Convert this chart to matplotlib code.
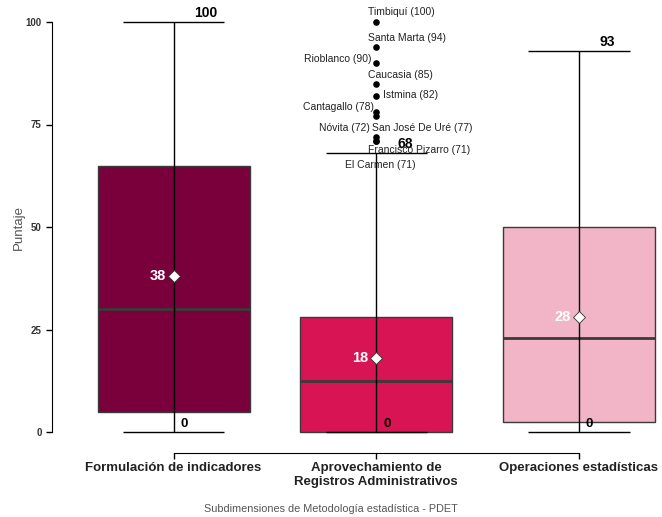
import matplotlib
matplotlib.use("Agg")
import matplotlib.pyplot as plt

plt.rcParams['font.family'] = ['Liberation Sans', 'DejaVu Sans']

# ---- data ----
categories = ["Formulación de indicadores",
              "Aprovechamiento de\nRegistros Administrativos",
              "Operaciones estadísticas"]
q1 = [5, 0, 2.5]
median = [30, 12.5, 23]
q3 = [65, 28, 50]
means = [38, 18, 28]
wmin = [0, 0, 0]
wmax = [100, 68, 93]
box_colors = ["#7a003c", "#d81454", "#f2b5c7"]

outlier_names = ["Timbiquí", "Santa Marta", "Rioblanco", "Caucasia", "Istmina",
                 "Cantagallo", "San José De Uré", "Nóvita", "Francisco Pizarro", "El Carmen"]
outlier_values = [100, 94, 90, 85, 82, 78, 77, 72, 71, 71]
outlier_group = 2

# label offsets (pixels) for outlier labels
label_offsets = [(25, 10), (31, 9), (-39, 4), (24, 9), (34, 1),
                 (-38, 5), (46, -12), (-32, 9), (43, -9), (4, -24)]

fig = plt.figure(figsize=(6.62, 5.17), dpi=100)
ax = fig.add_axes([52/662, 64.5/517, 610/662, 451/517])

xs = [1, 2, 3]
bw = 0.75
cw = 0.5
for x, a, m, b, mu, lo, hi, c in zip(xs, q1, median, q3, means, wmin, wmax, box_colors):
    ax.bar(x, b - a, bottom=a, width=bw, color=c, edgecolor="#3a3a3a", linewidth=1.0, zorder=2)
    ax.hlines(m, x - bw/2, x + bw/2, color="#3a3a3a", linewidth=2.0, zorder=3)
    ax.vlines(x, lo, hi, color="black", linewidth=1.0, zorder=4)
    ax.hlines([lo, hi], x - cw/2, x + cw/2, color="black", linewidth=1.0, zorder=4)
    ax.plot(x, mu, marker="D", markersize=6, markerfacecolor="white",
            markeredgecolor="#333333", markeredgewidth=0.6, zorder=5)
    ax.annotate(f"{mu:g}", (x, mu), xytext=(-8, 0), textcoords="offset pixels",
                ha="right", va="center", color="white", fontsize=10.5, fontweight="bold", zorder=6)
    ax.annotate(f"{hi:g}", (x, hi), xytext=(21, 2), textcoords="offset pixels",
                ha="left", va="bottom", color="black", fontsize=10, fontweight="bold", zorder=6)
    ax.annotate(f"{lo:g}", (x, lo), xytext=(7, 2), textcoords="offset pixels",
                ha="left", va="bottom", color="black", fontsize=9.5, fontweight="bold", zorder=6)

ox = [outlier_group] * len(outlier_values)
ax.scatter(ox, outlier_values, s=14, color="black", zorder=5)
for name, v, off in zip(outlier_names, outlier_values, label_offsets):
    ax.annotate(f"{name} ({v})", (outlier_group, v), xytext=off, textcoords="offset pixels",
                ha="center", va="center", fontsize=7.5, color="#222222", zorder=6)

ax.set_xlim(0.4, 3.41)
ax.set_ylim(-5, 105)
ax.set_yticks([0, 25, 50, 75, 100])
ax.set_xticks(xs)
ax.set_xticklabels(categories, fontsize=9.5, fontweight="bold", color="#222222")
for lab in ax.get_yticklabels():
    lab.set_fontweight("bold")
    lab.set_fontsize(7)
    lab.set_color("#333333")
ax.spines["top"].set_visible(False)
ax.spines["right"].set_visible(False)
ax.spines["left"].set_bounds(0, 100)
ax.spines["bottom"].set_bounds(1, 3)
ax.tick_params(axis="both", length=4, width=1, color="black")
ax.tick_params(axis="x", pad=3)
ax.set_ylabel("Puntaje", fontsize=9.5, color="#555555")
ax.yaxis.set_label_coords(-0.045, 0.5)
ax.set_xlabel("Subdimensiones de Metodología estadística - PDET", fontsize=7.8, color="#555555")
ax.xaxis.set_label_coords((331 - 52) / 610, -0.115)

fig.savefig("out.png", dpi=100)
